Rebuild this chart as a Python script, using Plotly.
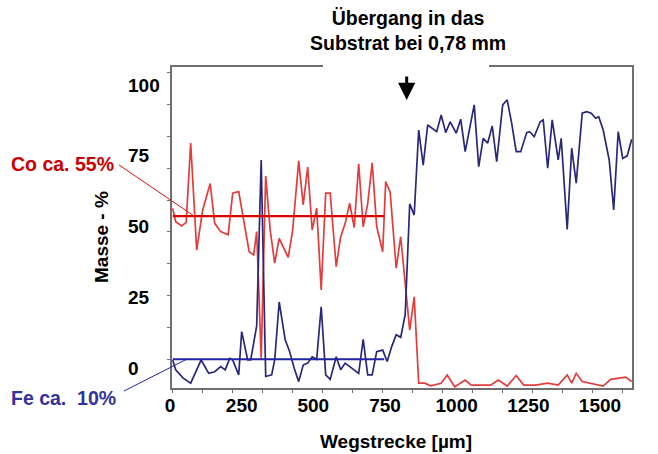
import plotly.graph_objects as go

W, H = 658, 454

# Line scan across coating and substrate: distance [µm] vs. mass-%
co_x = [0, 10, 30, 45, 60, 80, 100, 125, 140, 160, 185, 200, 220, 235, 255, 270, 280, 295, 310, 325,
        340, 355, 385, 400, 420, 435, 450, 465, 480, 495, 510, 525, 545, 560, 575, 590, 605, 620, 635, 650,
        665, 680, 700, 710, 725, 745, 760, 790, 805, 820, 840, 860, 880, 895, 915, 940, 975, 995, 1025, 1060,
        1085, 1115, 1145, 1170, 1210, 1250, 1285, 1315, 1330, 1345, 1365, 1395, 1435, 1460, 1485, 1510, 1530]
co_y = [57.4, 53.2, 51.9, 53.0, 77.9, 44.3, 56.9, 65.2, 52.7, 50.1, 49.1, 62.2, 62.7, 54.4, 43.8, 42.8, 50.1, 10.3, 67.6, 50.6,
        40.2, 48.0, 42.0, 50.6, 72.3, 58.5, 70.4, 50.6, 57.5, 31.8, 62.2, 62.2, 39.1, 48.5, 52.7, 59.0, 51.4, 71.4, 51.6, 58.8,
        71.7, 51.7, 43.8, 65.8, 62.4, 38.6, 48.5, 19.2, 29.6, 2.5, 2.5, 1.7, 2.2, 2.5, 5.1, 1.4, 3.5, 1.9, 1.9, 1.9,
        3.5, 1.6, 4.9, 1.9, 1.9, 2.5, 1.9, 5.1, 2.5, 5.6, 3.0, 2.5, 1.6, 3.7, 4.1, 4.4, 3.0]

fe_x = [0, 10, 35, 60, 95, 120, 140, 160, 175, 190, 200, 220, 230, 250, 260, 280, 295, 310, 330, 340,
        355, 375, 390, 405, 420, 435, 450, 465, 480, 495, 510, 525, 545, 560, 575, 590, 605, 620, 635, 650,
        665, 680, 700, 715, 730, 745, 760, 775, 790, 805, 820, 835, 850, 865, 880, 895, 910, 925, 945, 960,
        975, 990, 1005, 1020, 1035, 1050, 1065, 1080, 1100, 1115, 1130, 1145, 1160, 1180, 1190, 1205, 1225, 1235, 1250, 1265,
        1285, 1295, 1315, 1330, 1345, 1365, 1380, 1395, 1410, 1420, 1435, 1455, 1470, 1485, 1500, 1515, 1530]
fe_y = [9.8, 6.7, 4.1, 2.5, 9.8, 5.6, 6.1, 7.7, 6.7, 10.3, 9.8, 5.1, 18.7, 9.8, 9.8, 20.5, 72.6, 4.6, 5.1, 9.8,
        28.0, 16.1, 12.4, 7.2, 3.0, 8.2, 8.8, 10.8, 10.0, 26.5, 5.1, 3.7, 10.8, 6.7, 8.8, 7.7, 6.7, 5.6, 16.3, 5.1,
        5.1, 12.4, 12.9, 9.3, 14.0, 17.7, 16.9, 24.0, 58.8, 55.3, 82.0, 71.0, 83.6, 82.6, 81.5, 86.7, 81.2, 84.6, 81.0, 85.4,
        75.2, 82.6, 89.9, 70.5, 79.4, 77.9, 83.3, 72.1, 89.9, 91.5, 84.1, 75.2, 75.2, 81.2, 81.5, 79.9, 84.6, 85.2, 70.0, 85.2,
        72.6, 79.4, 50.8, 76.3, 65.3, 87.3, 87.8, 87.3, 85.7, 86.2, 82.0, 72.6, 56.9, 81.5, 73.1, 73.9, 79.1]

# Mean levels within the coating
co_mean = 55
fe_mean = 10
coating_span = [0, 705]
transition_um = 780

x_labels = [0, 250, 500, 750, 1000, 1250, 1500]
y_labels = [0, 25, 50, 75, 100]

FONT = "Liberation Sans, Arial, Helvetica, sans-serif"
FRAME = "#6f6f6f"


def px(x):
    return x / W


def py(y):
    return 1 - y / H


fig = go.Figure()

fig.add_trace(go.Scatter(x=co_x, y=co_y, mode="lines", name="Co",
                         line=dict(color="rgb(226,60,60)", width=1.7), showlegend=False))
fig.add_trace(go.Scatter(x=fe_x, y=fe_y, mode="lines", name="Fe",
                         line=dict(color="rgb(40,40,120)", width=1.7), showlegend=False))
fig.add_trace(go.Scatter(x=coating_span, y=[co_mean, co_mean], mode="lines",
                         line=dict(color="#dd0000", width=2.2), showlegend=False))
fig.add_trace(go.Scatter(x=coating_span, y=[fe_mean, fe_mean], mode="lines",
                         line=dict(color="#2323a6", width=2.0), showlegend=False))

# carrier trace for the labelled scale
fig.add_trace(go.Scatter(x=x_labels, y=[None] * len(x_labels), xaxis="x2", yaxis="y2",
                         mode="markers", showlegend=False, hoverinfo="skip"))

tick_font = dict(family=FONT, size=19, color="black", weight="bold")

fig.update_layout(
    width=W, height=H, autosize=False,
    margin=dict(l=0, r=0, t=0, b=0, pad=0, autoexpand=False),
    paper_bgcolor="white",
    plot_bgcolor="rgba(0,0,0,0)",
    showlegend=False,
    xaxis=dict(domain=[px(172), px(632)], range=[-2.3, 1531], showgrid=False, zeroline=False,
               showline=True, mirror=True, linecolor=FRAME, linewidth=1.5,
               ticks="outside", tick0=0, dtick=100, ticklen=3, tickcolor=FRAME,
               showticklabels=False, anchor="y", automargin=False),
    yaxis=dict(domain=[py(388.3), py(67)], range=[0.9, 101.8], showgrid=False, zeroline=False,
               showline=True, mirror=True, linecolor=FRAME, linewidth=1.5,
               ticks="outside", tick0=0, dtick=10, ticklen=3, tickcolor=FRAME,
               showticklabels=False, anchor="x", automargin=False),
    xaxis2=dict(domain=[px(170), px(600)], range=[0, 1500], tickvals=x_labels,
                anchor="free", position=py(392), side="bottom", showline=False, showgrid=False,
                zeroline=False, ticks="", tickfont=tick_font, automargin=False),
    yaxis2=dict(domain=[py(368.3), py(85)], range=[0, 100], tickvals=y_labels,
                anchor="free", position=px(124), side="left", ticklabelposition="inside",
                ticklabeloverflow="allow", showline=False, showgrid=False, zeroline=False,
                ticks="", tickfont=tick_font, automargin=False),
)

fig.add_annotation(x=px(408), y=py(30.5), xref="paper", yref="paper",
                   text="Übergang in das<br>Substrat bei 0,78 mm", showarrow=False,
                   font=dict(family=FONT, size=19.5, color="black", weight="bold"),
                   xanchor="center", yanchor="middle")
fig.add_annotation(x=transition_um, y=py(100), xref="x", yref="paper", text="",
                   showarrow=True, ax=0, ay=-25, arrowhead=2, arrowsize=1.15,
                   arrowwidth=3, arrowcolor="black")
fig.add_annotation(x=px(9), y=py(164), xref="paper", yref="paper", text="Co ca. 55%",
                   showarrow=False, xanchor="left", yanchor="middle",
                   font=dict(family=FONT, size=19.5, color="#cc0000", weight="bold"))
fig.add_annotation(x=px(9), y=py(398), xref="paper", yref="paper", text="Fe ca.&nbsp; 10%",
                   showarrow=False, xanchor="left", yanchor="middle",
                   font=dict(family=FONT, size=19.5, color="#333399", weight="bold"))
fig.add_annotation(x=px(102), y=py(237), xref="paper", yref="paper", text="Masse - %",
                   textangle=-90, showarrow=False, xanchor="center", yanchor="middle",
                   font=dict(family=FONT, size=19, color="black", weight="bold"))
fig.add_annotation(x=px(396), y=py(441), xref="paper", yref="paper", text="Wegstrecke [µm]",
                   showarrow=False, xanchor="center", yanchor="middle",
                   font=dict(family=FONT, size=19, color="black", weight="bold"))

# gap in the top frame behind the heading
fig.add_shape(type="rect", xref="paper", yref="paper", x0=px(323), x1=px(489), y0=py(71), y1=py(55),
              fillcolor="white", line=dict(width=0), layer="above")
# leader lines from the labels to the mean levels
fig.add_shape(type="line", xref="paper", yref="paper", x0=px(119), y0=py(165), x1=px(194), y1=py(216),
              line=dict(color="#e01010", width=1))
fig.add_shape(type="line", xref="paper", yref="paper", x0=px(124), y0=py(391), x1=px(186.5), y1=py(359.3),
              line=dict(color="#2323a6", width=1))

fig.write_html("out.html")
